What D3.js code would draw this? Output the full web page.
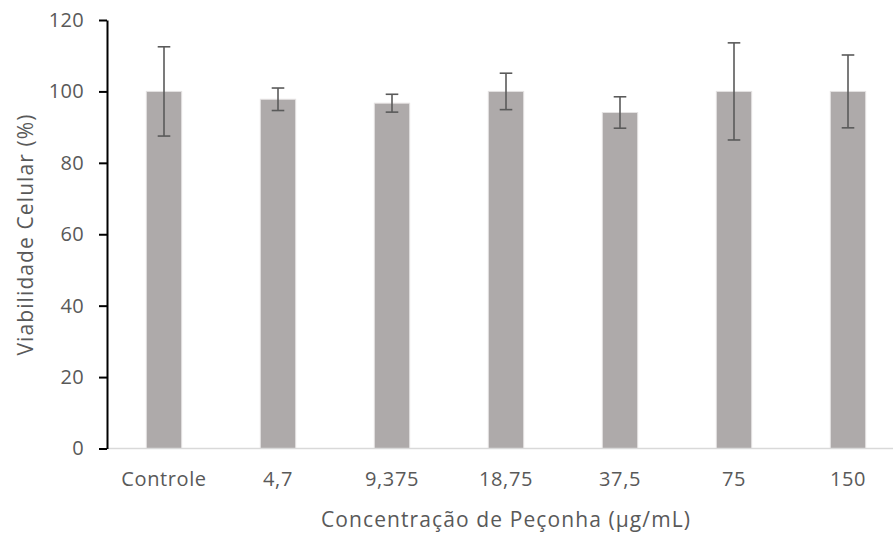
<!DOCTYPE html>
<html>
<head>
<meta charset="utf-8">
<style>
body { margin: 0; background: #fff; }
svg text { font-family: "Open Sans", sans-serif; fill: #595959; }
</style>
</head>
<body>
<div id="graph"></div>
<script src="https://d3js.org/d3.v7.min.js"></script>
<script>
// Data
var categories = ["Controle", "4,7", "9,375", "18,75", "37,5", "75", "150"];
var means = [100, 97.8, 96.7, 100, 94.1, 100, 100];
var errors = [12.5, 3.15, 2.5, 5.1, 4.4, 13.6, 10.2];
var yTicks = [0, 20, 40, 60, 80, 100, 120];

var width = 893, height = 534;
var margin = { top: 20, right: -12, bottom: 85.5, left: 107 };

var svg = d3.select("#graph")
            .append("svg")
            .attr("width", width)
            .attr("height", height);

var data = categories.map(function(c, i) {
  return { cat: c, mean: means[i], err: errors[i] };
});

// Scales
var xScale = d3.scaleBand()
               .domain(categories)
               .range([margin.left, width - margin.right])
               .paddingInner(0.69)
               .paddingOuter(0.345);

var yScale = d3.scaleLinear()
               .domain([0, 120])
               .range([height - margin.bottom, margin.top]);

// Bars
svg.append("g")
   .selectAll("rect")
   .data(data)
   .enter()
   .append("rect")
   .attr("x", function(d) { return xScale(d.cat); })
   .attr("y", function(d) { return yScale(d.mean); })
   .attr("width", xScale.bandwidth())
   .attr("height", function(d) { return yScale(0) - yScale(d.mean); })
   .attr("fill", "#aeaaaa")
   .attr("stroke", "#e4e2e2")
   .attr("stroke-width", 1);

// x-axis line (light gray)
svg.append("line")
   .attr("x1", margin.left)
   .attr("x2", width - margin.right)
   .attr("y1", yScale(0))
   .attr("y2", yScale(0))
   .attr("stroke", "#d9d9d9")
   .attr("stroke-width", 1.5);

// Error bars
var eb = svg.append("g")
            .attr("stroke", "#5a5a5a")
            .attr("stroke-width", 1.6);

data.forEach(function(d) {
  var cx = xScale(d.cat) + xScale.bandwidth() / 2;
  var capW = 6.3;
  eb.append("line")
    .attr("x1", cx).attr("x2", cx)
    .attr("y1", yScale(d.mean + d.err))
    .attr("y2", yScale(d.mean - d.err));
  eb.append("line")
    .attr("x1", cx - capW).attr("x2", cx + capW)
    .attr("y1", yScale(d.mean + d.err))
    .attr("y2", yScale(d.mean + d.err));
  eb.append("line")
    .attr("x1", cx - capW).attr("x2", cx + capW)
    .attr("y1", yScale(d.mean - d.err))
    .attr("y2", yScale(d.mean - d.err));
});

// y-axis
var yAxis = svg.append("g")
   .attr("transform", "translate(" + margin.left + ",0)")
   .call(d3.axisLeft(yScale)
           .tickValues(yTicks)
           .tickSize(8)
           .tickSizeOuter(0)
           .tickPadding(15));

yAxis.select(".domain").attr("stroke", "#000").attr("stroke-width", 2);
yAxis.selectAll(".tick line").attr("stroke", "#000").attr("stroke-width", 2);
yAxis.selectAll(".tick text")
     .style("font-size", "20px")
     .style("letter-spacing", "0.3px")
     .attr("fill", "#595959");

// x-axis labels
var xAxis = svg.append("g")
   .attr("transform", "translate(0," + yScale(0) + ")")
   .call(d3.axisBottom(xScale).tickSize(0).tickPadding(23));

xAxis.select(".domain").remove();
xAxis.selectAll(".tick text")
     .style("font-size", "20px")
     .style("letter-spacing", "0.6px")
     .attr("fill", "#595959");

// x-axis title
svg.append("text")
   .attr("x", (margin.left + width - margin.right) / 2)
   .attr("y", 527)
   .style("text-anchor", "middle")
   .style("font-size", "21px")
   .style("letter-spacing", "1.1px")
   .text("Concentração de Peçonha (µg/mL)");

// y-axis title
svg.append("text")
   .attr("transform", "rotate(-90)")
   .attr("x", -234.5)
   .attr("y", 33)
   .style("text-anchor", "middle")
   .style("font-size", "21px")
   .style("letter-spacing", "1.1px")
   .text("Viabilidade Celular (%)");
</script>
</body>
</html>
